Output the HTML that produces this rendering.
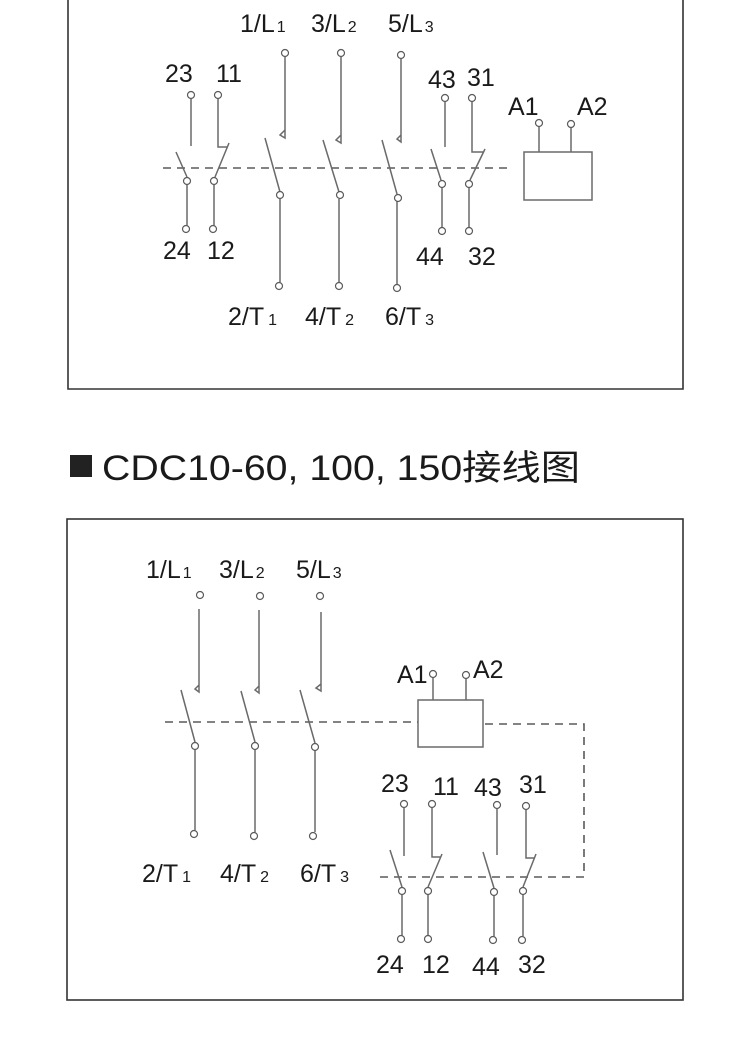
<!DOCTYPE html>
<html><head><meta charset="utf-8"><style>
html,body{margin:0;padding:0;background:#fff;width:750px;height:1038px;overflow:hidden}
svg{display:block}
text{font-family:"Liberation Sans","Noto Sans CJK SC",sans-serif;fill:#1a1a1a}
.l{stroke:#6a6a6a;stroke-width:1.5;fill:none}
.c{stroke:#5a5a5a;stroke-width:1.2;fill:#fff}
.d{stroke:#5a5a5a;stroke-width:1.6;fill:none;stroke-dasharray:8,6}
.t{font-size:25px}
.s{font-size:16px}
</style></head><body>
<svg width="750" height="1038" viewBox="0 0 750 1038">
<path d="M68,-5 V389 H683 V-5" fill="none" stroke="#333" stroke-width="1.6"/>
<text class="t" x="240" y="32">1/L<tspan class="s" dx="2">1</tspan></text>
<text class="t" x="311" y="32">3/L<tspan class="s" dx="2">2</tspan></text>
<text class="t" x="388" y="32">5/L<tspan class="s" dx="2">3</tspan></text>
<text class="t" x="165" y="82">23</text>
<text class="t" x="216" y="82">11</text>
<text class="t" x="428" y="88">43</text>
<text class="t" x="467" y="86">31</text>
<text class="t" x="508" y="115">A1</text>
<text class="t" x="577" y="115">A2</text>
<text class="t" x="163" y="259">24</text>
<text class="t" x="207" y="259">12</text>
<text class="t" x="416" y="265">44</text>
<text class="t" x="468" y="265">32</text>
<text class="t" x="228" y="325">2/T<tspan class="s" dx="4">1</tspan></text>
<text class="t" x="305" y="325">4/T<tspan class="s" dx="4">2</tspan></text>
<text class="t" x="385" y="325">6/T<tspan class="s" dx="4">3</tspan></text>
<path class="d" d="M163,168 H512"/>
<path class="l" d="M285,57 V138 L280,135 L285,130"/>
<path class="l" d="M265,138 L280,192 M280,199 V282"/>
<circle class="c" cx="285" cy="53" r="3.5"/><circle class="c" cx="280" cy="195" r="3.5"/><circle class="c" cx="279" cy="286" r="3.5"/>
<path class="l" d="M341,57 V143 L336,140 L341,135"/>
<path class="l" d="M323,140 L339,192 M339,199 V282"/>
<circle class="c" cx="341" cy="53" r="3.5"/><circle class="c" cx="340" cy="195" r="3.5"/><circle class="c" cx="339" cy="286" r="3.5"/>
<path class="l" d="M401,59 V142 L397,139 L401,135"/>
<path class="l" d="M382,140 L397,194 M397,201 V284"/>
<circle class="c" cx="401" cy="55" r="3.5"/><circle class="c" cx="398" cy="198" r="3.5"/><circle class="c" cx="397" cy="288" r="3.5"/>
<path class="l" d="M191,99 V146 M176,152 L187,177 M187,185 V225"/>
<circle class="c" cx="191" cy="95" r="3.5"/><circle class="c" cx="187" cy="181" r="3.5"/><circle class="c" cx="186" cy="229" r="3.5"/>
<path class="l" d="M218,99 V147 H227 M229,143 L215,177 M214,185 V225"/>
<circle class="c" cx="218" cy="95" r="3.5"/><circle class="c" cx="214" cy="181" r="3.5"/><circle class="c" cx="213" cy="229" r="3.5"/>
<path class="l" d="M445,102 V147 M431,149 L441,180 M442,188 V227"/>
<circle class="c" cx="445" cy="98" r="3.5"/><circle class="c" cx="442" cy="184" r="3.5"/><circle class="c" cx="442" cy="231" r="3.5"/>
<path class="l" d="M472,102 V152 H483 M485,149 L470,180 M469,188 V227"/>
<circle class="c" cx="472" cy="98" r="3.5"/><circle class="c" cx="469" cy="184" r="3.5"/><circle class="c" cx="469" cy="231" r="3.5"/>
<rect x="524" y="152" width="68" height="48" fill="none" stroke="#6a6a6a" stroke-width="1.5"/>
<path class="l" d="M539,127 V152 M571,128 V152"/>
<circle class="c" cx="539" cy="123" r="3.5"/><circle class="c" cx="571" cy="124" r="3.5"/>

<rect x="70" y="455" width="22" height="22" fill="#222"/>
<text x="102" y="480" font-size="35" textLength="478" lengthAdjust="spacingAndGlyphs">CDC10-60, 100, 150接线图</text>

<rect x="67" y="519" width="616" height="481" fill="none" stroke="#333" stroke-width="1.6"/>
<text class="t" x="146" y="578">1/L<tspan class="s" dx="2">1</tspan></text>
<text class="t" x="219" y="578">3/L<tspan class="s" dx="2">2</tspan></text>
<text class="t" x="296" y="578">5/L<tspan class="s" dx="2">3</tspan></text>
<text class="t" x="142" y="882">2/T<tspan class="s" dx="4">1</tspan></text>
<text class="t" x="220" y="882">4/T<tspan class="s" dx="4">2</tspan></text>
<text class="t" x="300" y="882">6/T<tspan class="s" dx="4">3</tspan></text>
<text class="t" x="397" y="683">A1</text>
<text class="t" x="473" y="678">A2</text>
<text class="t" x="381" y="792">23</text>
<text class="t" x="433" y="795">11</text>
<text class="t" x="474" y="796">43</text>
<text class="t" x="519" y="793">31</text>
<text class="t" x="376" y="973">24</text>
<text class="t" x="422" y="973">12</text>
<text class="t" x="472" y="975">44</text>
<text class="t" x="518" y="973">32</text>
<path class="d" d="M165,722 H418"/>
<path class="d" d="M485,724 H584 V877 H378"/>
<path class="l" d="M199,609 V692 L195,689 L199,685"/>
<path class="l" d="M181,690 L195,742 M195,750 V830"/>
<circle class="c" cx="200" cy="595" r="3.5"/><circle class="c" cx="195" cy="746" r="3.5"/><circle class="c" cx="194" cy="834" r="3.5"/>
<path class="l" d="M259,610 V693 L255,690 L259,686"/>
<path class="l" d="M241,691 L255,742 M255,750 V832"/>
<circle class="c" cx="260" cy="596" r="3.5"/><circle class="c" cx="255" cy="746" r="3.5"/><circle class="c" cx="254" cy="836" r="3.5"/>
<path class="l" d="M321,612 V691 L316,688 L321,684"/>
<path class="l" d="M300,690 L315,743 M315,751 V832"/>
<circle class="c" cx="320" cy="596" r="3.5"/><circle class="c" cx="315" cy="747" r="3.5"/><circle class="c" cx="313" cy="836" r="3.5"/>
<rect x="418" y="700" width="65" height="47" fill="none" stroke="#6a6a6a" stroke-width="1.5"/>
<path class="l" d="M433,678 V700 M466,679 V700"/>
<circle class="c" cx="433" cy="674" r="3.5"/><circle class="c" cx="466" cy="675" r="3.5"/>
<path class="l" d="M404,808 V856 M390,850 L402,887 M402,895 V935"/>
<circle class="c" cx="404" cy="804" r="3.5"/><circle class="c" cx="402" cy="891" r="3.5"/><circle class="c" cx="401" cy="939" r="3.5"/>
<path class="l" d="M432,808 V857 H441 M442,854 L428,887 M428,895 V935"/>
<circle class="c" cx="432" cy="804" r="3.5"/><circle class="c" cx="428" cy="891" r="3.5"/><circle class="c" cx="428" cy="939" r="3.5"/>
<path class="l" d="M497,809 V855 M483,852 L494,888 M494,896 V936"/>
<circle class="c" cx="497" cy="805" r="3.5"/><circle class="c" cx="494" cy="892" r="3.5"/><circle class="c" cx="493" cy="940" r="3.5"/>
<path class="l" d="M526,810 V858 H535 M536,854 L523,887 M523,895 V936"/>
<circle class="c" cx="526" cy="806" r="3.5"/><circle class="c" cx="523" cy="891" r="3.5"/><circle class="c" cx="522" cy="940" r="3.5"/>
</svg>
</body></html>
